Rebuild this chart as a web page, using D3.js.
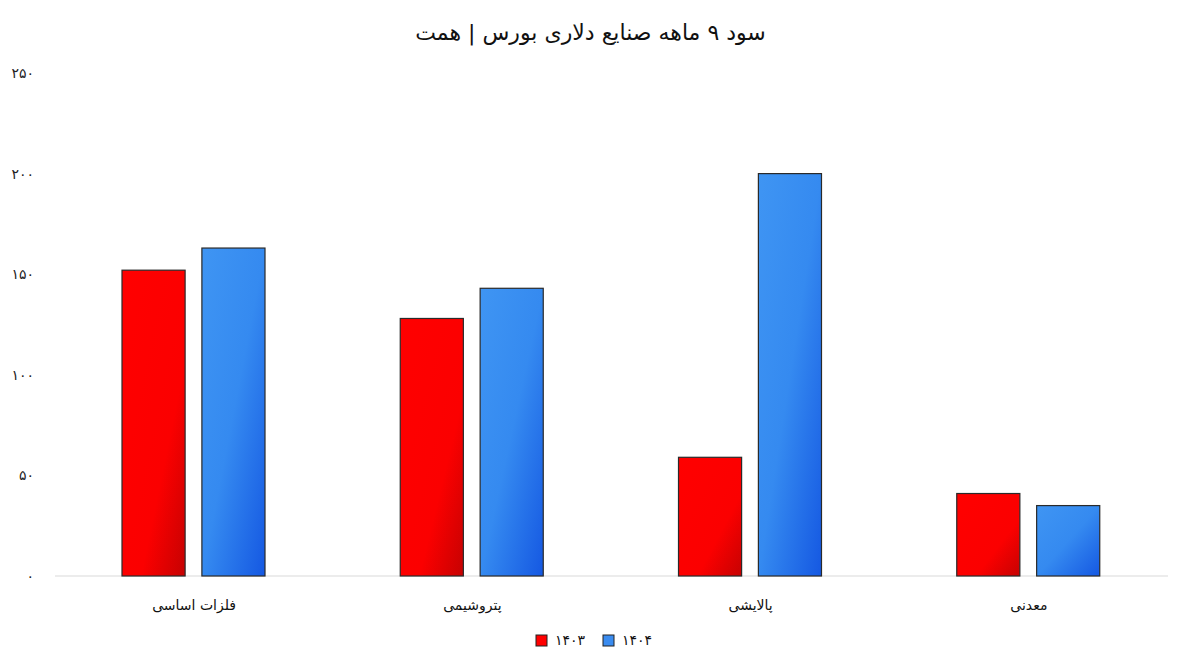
<!DOCTYPE html>
<html>
<head>
<meta charset="utf-8">
<script src="https://cdn.jsdelivr.net/npm/d3@7"></script>
<style>
  body { margin: 0; background: #fff; }
  svg { display: block; font-family: "DejaVu Sans", sans-serif; }
</style>
</head>
<body>
<div id="chart"></div>
<script>
const categories = ["فلزات اساسی", "پتروشیمی", "پالایشی", "معدنی"];
const seriesNames = ["۱۴۰۳", "۱۴۰۴"];
const values1403 = [152, 128, 59, 41];
const values1404 = [163, 143, 200, 35];
const yTicks = [0, 50, 100, 150, 200, 250];

const W = 1181, H = 665;
const margin = { top: 73, right: 13, bottom: 89, left: 55 };
const width = W - margin.left - margin.right;
const height = H - margin.top - margin.bottom;

const toFa = n => String(n).replace(/\d/g, d => "۰۱۲۳۴۵۶۷۸۹"[d]);

const svg = d3.select("#chart").append("svg")
  .attr("width", W)
  .attr("height", H);

// gradients for bars
const defs = svg.append("defs");
function grad(id, stops) {
  const gr = defs.append("linearGradient").attr("id", id)
    .attr("x1", "0%").attr("y1", "0%").attr("x2", "100%").attr("y2", "100%");
  stops.forEach(([o, c]) => gr.append("stop").attr("offset", o).attr("stop-color", c));
}
grad("gRed", [["0%", "#ff0000"], ["65%", "#fb0000"], ["100%", "#c60202"]]);
grad("gBlue", [["0%", "#3f95f3"], ["50%", "#358af0"], ["100%", "#1558e2"]]);
const fills = ["url(#gRed)", "url(#gBlue)"];
const swatch = ["#ff0000", "#3a8cf0"];

const g = svg.append("g").attr("transform", `translate(${margin.left},${margin.top})`);

const x0 = d3.scaleBand().domain(categories).range([0, width]).paddingInner(0).paddingOuter(0);
const x1 = d3.scaleBand().domain(seriesNames).range([67, 210]).paddingInner(0.21);
const y = d3.scaleLinear().domain([0, 250]).range([height, 0]);

// y tick labels
g.selectAll(".ytick")
  .data(yTicks)
  .enter().append("text")
  .attr("x", -21)
  .attr("y", d => y(d))
  .attr("dy", "0.35em")
  .attr("text-anchor", "end")
  .attr("font-size", "14px")
  .attr("fill", "#222")
  .text(d => toFa(d));

// baseline
g.append("line")
  .attr("x1", 0).attr("x2", width)
  .attr("y1", y(0)).attr("y2", y(0))
  .attr("stroke", "#d9d9d9")
  .attr("stroke-width", 1);

const data = categories.map((c, i) => ({ cat: c, vals: [values1403[i], values1404[i]] }));

const groups = g.selectAll(".grp")
  .data(data)
  .enter().append("g")
  .attr("transform", d => `translate(${x0(d.cat)},0)`);

groups.selectAll("rect")
  .data(d => d.vals.map((v, i) => ({ s: seriesNames[i], v, i })))
  .enter().append("rect")
  .attr("x", d => x1(d.s))
  .attr("y", d => y(d.v))
  .attr("width", x1.bandwidth())
  .attr("height", d => y(0) - y(d.v))
  .attr("fill", d => fills[d.i])
  .attr("stroke", "#2a2a2a")
  .attr("stroke-width", 1.2);

// category labels
g.selectAll(".xlab")
  .data(categories)
  .enter().append("text")
  .attr("x", d => x0(d) + x0.bandwidth() / 2)
  .attr("y", height + 34)
  .attr("text-anchor", "middle")
  .attr("font-size", "14px")
  .attr("fill", "#111")
  .text(d => d);

// title
svg.append("text")
  .attr("x", W / 2)
  .attr("y", 40)
  .attr("text-anchor", "middle")
  .attr("font-size", "22px")
  .attr("fill", "#111")
  .text("سود ۹ ماهه صنایع دلاری بورس | همت");

// legend
const legend = svg.append("g").attr("transform", "translate(536,635)");
seriesNames.forEach((s, i) => {
  const lg = legend.append("g").attr("transform", `translate(${i * 67},0)`);
  lg.append("rect")
    .attr("width", 11).attr("height", 11)
    .attr("fill", swatch[i])
    .attr("stroke", "#222");
  lg.append("text")
    .attr("x", 19).attr("y", 10)
    .attr("font-size", "14px")
    .attr("fill", "#111")
    .text(s);
});
</script>
</body>
</html>
